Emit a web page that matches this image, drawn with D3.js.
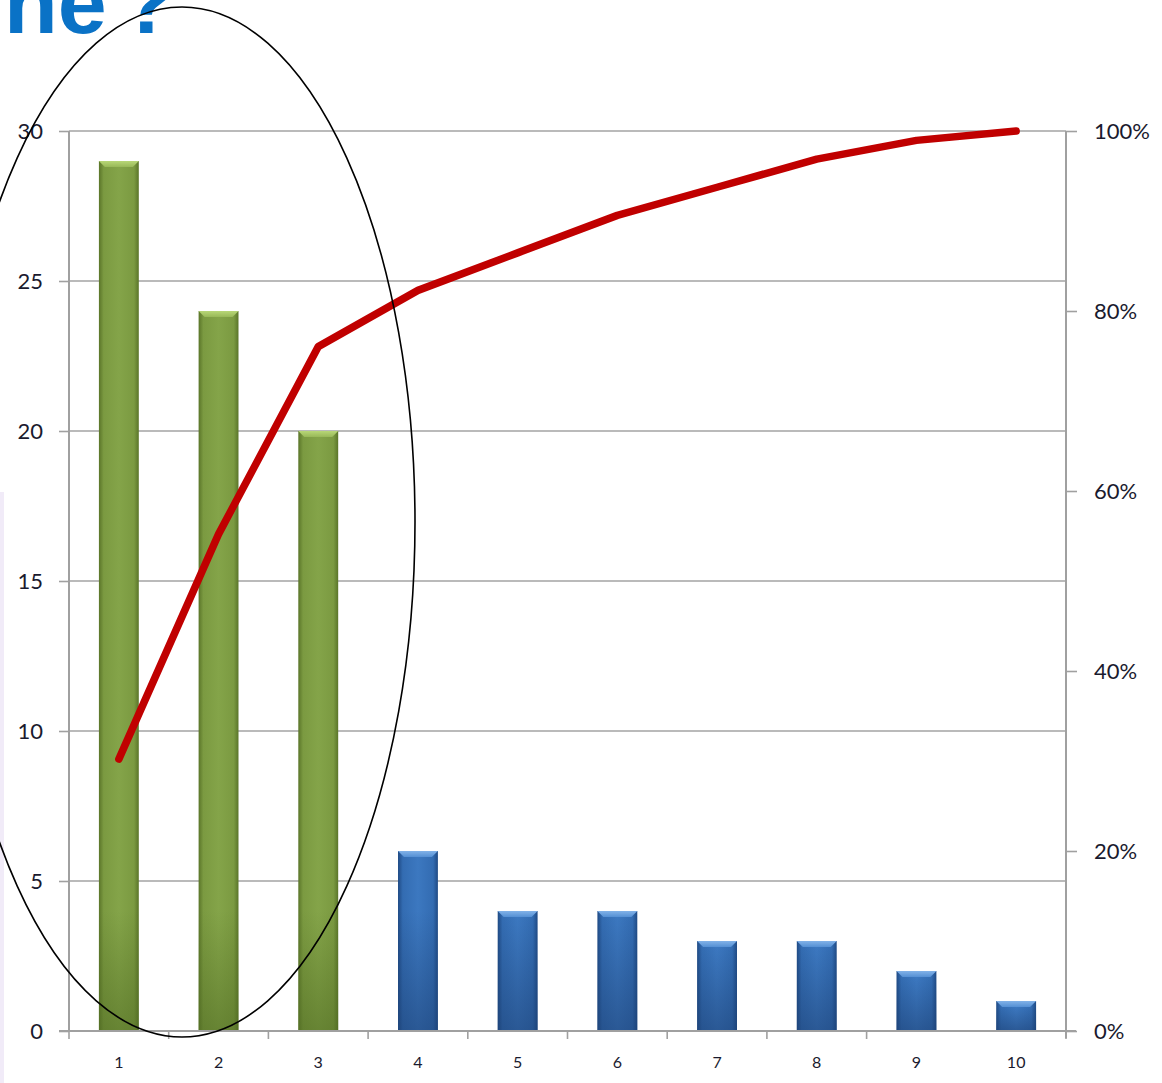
<!DOCTYPE html>
<html>
<head>
<meta charset="utf-8">
<script src="https://cdn.jsdelivr.net/npm/d3@7"></script>
<style>
  html, body { margin: 0; padding: 0; background: #fff; }
  svg { display: block; }
</style>
</head>
<body>
<svg id="chart" width="1162" height="1083"></svg>
<script>
// Pareto data: defect causes ranked by frequency
const categories = [1, 2, 3, 4, 5, 6, 7, 8, 9, 10];
const counts = [29, 24, 20, 6, 4, 4, 3, 3, 2, 1];
const groups = ["vital", "vital", "vital", "trivial", "trivial", "trivial", "trivial", "trivial", "trivial", "trivial"];
const leftTicks = [0, 5, 10, 15, 20, 25, 30];
const rightTicks = [0, 0.2, 0.4, 0.6, 0.8, 1.0];

const total = d3.sum(counts);
const cumShare = Array.from(d3.cumsum(counts), v => v / total);

const svg = d3.select("#chart");
const W = 1162, H = 1083;
const plot = { left: 69, right: 1066, top: 131, bottom: 1031 };

// faint side strip from the slide background
svg.append("rect").attr("x", 0).attr("y", 492).attr("width", 4).attr("height", H - 492)
  .attr("fill", "#f1ebf8");

// slide heading fragment
svg.append("text")
  .attr("x", 4).attr("y", 33)
  .attr("font-family", "Liberation Sans, Arial, sans-serif")
  .attr("font-weight", "bold")
  .attr("font-size", 88)
  .attr("word-spacing", -10)
  .attr("fill", "#0a72c6")
  .text("ne ?");

const x = d3.scaleBand().domain(categories).range([plot.left, plot.right]).paddingInner(0.6).paddingOuter(0.3);
const xBand = d3.scaleBand().domain(categories).range([plot.left, plot.right]);
const y = d3.scaleLinear().domain([0, 30]).range([plot.bottom, plot.top]);
const yPct = d3.scaleLinear().domain([0, 1]).range([plot.bottom, plot.top]);

const defs = svg.append("defs");
const palettes = {
  vital: { edge: "#5a7529", mid: "#7b9a41", light: "#84a449", top: "#b8d777", topEdge: "#98b858", foot: "#4f6a22" },
  trivial: { edge: "#1f4a84", mid: "#336cb2", light: "#3c78c0", top: "#82b2e8", topEdge: "#5590d4", foot: "#1c3f72" }
};
Object.entries(palettes).forEach(([k, p]) => {
  const g = defs.append("linearGradient").attr("id", "bar-" + k).attr("x1", 0).attr("x2", 1).attr("y1", 0).attr("y2", 0);
  g.append("stop").attr("offset", 0).attr("stop-color", p.edge);
  g.append("stop").attr("offset", 0.12).attr("stop-color", p.mid);
  g.append("stop").attr("offset", 0.5).attr("stop-color", p.light);
  g.append("stop").attr("offset", 0.88).attr("stop-color", p.mid);
  g.append("stop").attr("offset", 1).attr("stop-color", p.edge);
  const t = defs.append("linearGradient").attr("id", "top-" + k).attr("x1", 0).attr("x2", 0).attr("y1", 0).attr("y2", 1);
  t.append("stop").attr("offset", 0).attr("stop-color", p.top);
  t.append("stop").attr("offset", 1).attr("stop-color", p.topEdge);
  const s = defs.append("linearGradient").attr("id", "foot-" + k).attr("x1", 0).attr("x2", 0).attr("y1", 0).attr("y2", 1);
  s.append("stop").attr("offset", 0).attr("stop-color", p.foot).attr("stop-opacity", 0);
  s.append("stop").attr("offset", 1).attr("stop-color", p.foot).attr("stop-opacity", 0.55);
});

// horizontal gridlines
svg.append("g").selectAll("line").data(leftTicks.filter(d => d > 0)).join("line")
  .attr("x1", plot.left).attr("x2", plot.right)
  .attr("y1", d => y(d)).attr("y2", d => y(d))
  .attr("stroke", "#a3a3a3").attr("stroke-width", 1.6);

// left axis
const leftAxis = d3.axisLeft(y).tickValues(leftTicks).tickSize(10).tickPadding(16);
const gl = svg.append("g").attr("transform", `translate(${plot.left},0)`).call(leftAxis);
gl.select(".domain").attr("stroke", "#a0a0a0").attr("stroke-width", 2).attr("d", `M0,${plot.top}V${plot.bottom}`);
gl.selectAll(".tick line").attr("stroke", "#a0a0a0").attr("stroke-width", 1.6);
gl.selectAll(".tick text").attr("font-family", "Lato, sans-serif").attr("font-size", 22).attr("fill", "#1a1a2e");

// right axis
const rightAxis = d3.axisRight(yPct).tickValues(rightTicks).tickFormat(d3.format(".0%")).tickSize(11).tickPadding(17);
const gr = svg.append("g").attr("transform", `translate(${plot.right},0)`).call(rightAxis);
gr.select(".domain").attr("stroke", "#a0a0a0").attr("stroke-width", 2).attr("d", `M0,${plot.top}V${plot.bottom + 7}`);
gr.selectAll(".tick line").attr("stroke", "#a0a0a0").attr("stroke-width", 1.6);
gr.selectAll(".tick text").attr("font-family", "Lato, sans-serif").attr("font-size", 22).attr("fill", "#1a1a2e");

// bars
const bars = svg.append("g").selectAll("g").data(categories).join("g");
bars.append("rect")
  .attr("x", d => x(d)).attr("width", x.bandwidth())
  .attr("y", (d, i) => y(counts[i])).attr("height", (d, i) => y(0) - y(counts[i]))
  .attr("fill", (d, i) => `url(#bar-${groups[i]})`);
bars.append("rect")
  .attr("x", d => x(d)).attr("width", x.bandwidth())
  .attr("y", (d, i) => Math.max(y(counts[i]) + 6, y(0) - 120))
  .attr("height", (d, i) => y(0) - Math.max(y(counts[i]) + 6, y(0) - 120))
  .attr("fill", (d, i) => `url(#foot-${groups[i]})`);
bars.append("path")
  .attr("d", (d, i) => {
    const x0 = x(d), x1 = x(d) + x.bandwidth(), t = y(counts[i]);
    return `M${x0},${t}H${x1}L${x1 - 6},${t + 6}H${x0 + 6}Z`;
  })
  .attr("fill", (d, i) => `url(#top-${groups[i]})`);

// bottom axis
const bottomAxis = d3.axisBottom(xBand).tickSize(0).tickPadding(26);
const gb = svg.append("g").attr("transform", `translate(0,${plot.bottom})`).call(bottomAxis);
gb.select(".domain").attr("stroke", "#a0a0a0").attr("stroke-width", 2).attr("d", `M${plot.left - 10},0H${plot.right + 10}`);
gb.selectAll(".tick text").attr("font-family", "Lato, sans-serif").attr("font-size", 16).attr("fill", "#1a1a2e");
svg.append("g").selectAll("line").data(categories.slice(0, -1).concat(["end"])).join("line")
  .attr("x1", (d, i) => i < categories.length - 1 ? xBand(d) : plot.right)
  .attr("x2", (d, i) => i < categories.length - 1 ? xBand(d) : plot.right)
  .attr("y1", plot.bottom).attr("y2", plot.bottom + 8)
  .attr("stroke", "#a0a0a0").attr("stroke-width", 1.6);

// cumulative percentage line
const line = d3.line()
  .x((d, i) => xBand(categories[i]) + xBand.bandwidth() / 2)
  .y(d => yPct(d));
svg.append("path")
  .datum(cumShare)
  .attr("d", line)
  .attr("fill", "none")
  .attr("stroke", "#c00000")
  .attr("stroke-width", 7.5)
  .attr("stroke-linecap", "round")
  .attr("stroke-linejoin", "round");

// ellipse around the vital few
svg.append("ellipse")
  .attr("cx", 182).attr("cy", 522).attr("rx", 233).attr("ry", 515)
  .attr("fill", "none").attr("stroke", "#000").attr("stroke-width", 1.6);
</script>
</body>
</html>
